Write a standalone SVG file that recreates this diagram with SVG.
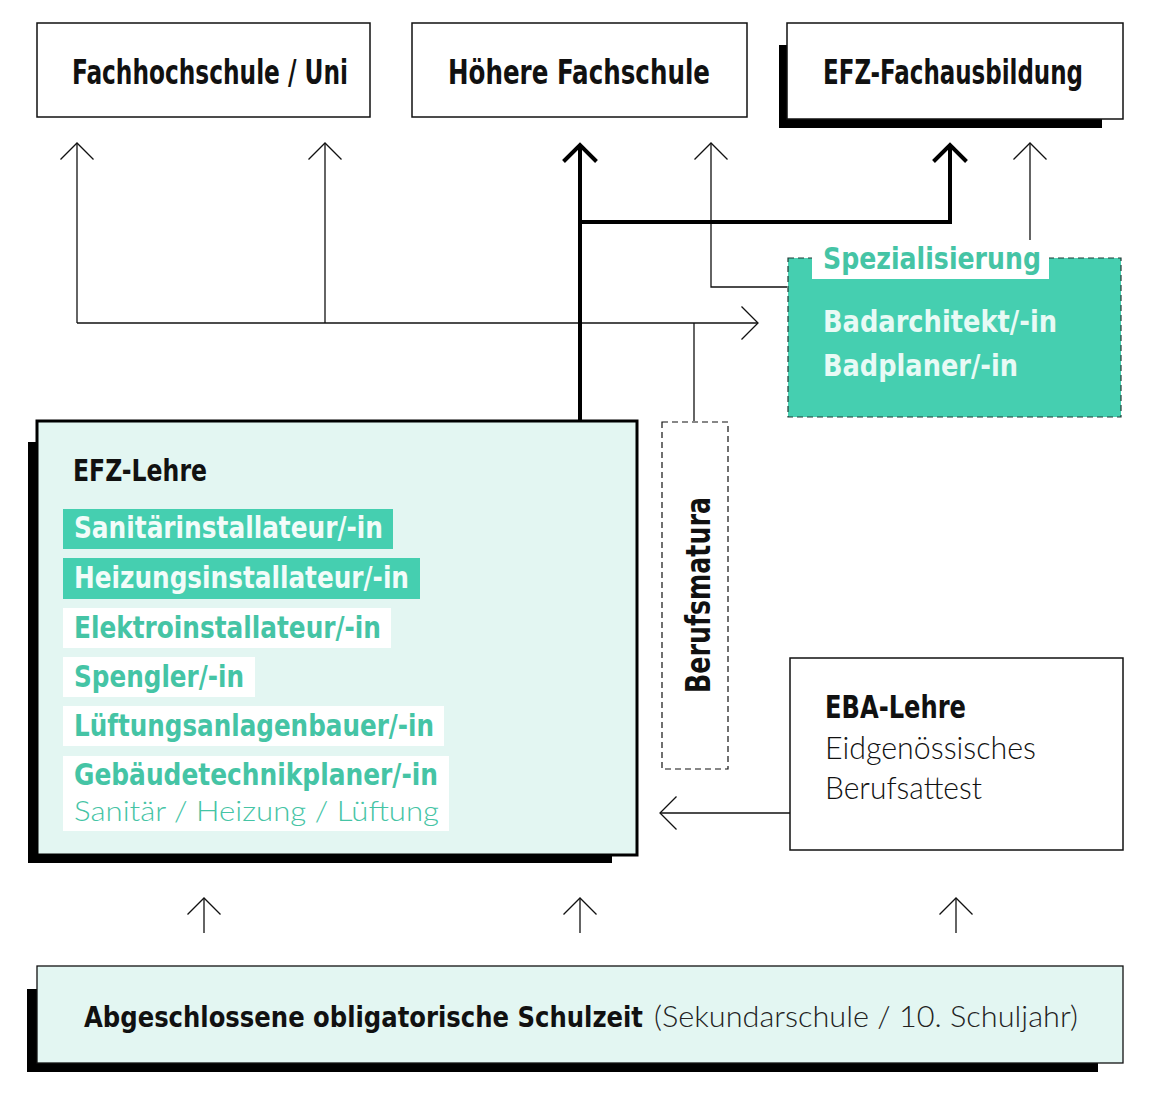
<svg xmlns="http://www.w3.org/2000/svg" width="1161" height="1099" viewBox="0 0 1161 1099">
<style>
text{font-family:"Liberation Sans Narrow","DejaVu Sans Condensed","Liberation Sans",sans-serif;}
.b{font-weight:bold;}
.r{font-family:Lato,"Open Sans","DejaVu Sans Condensed",sans-serif;font-weight:300;}
.box{fill:#fff;stroke:#111;stroke-width:1.5;}
.thin{fill:none;stroke:#111;stroke-width:1.3;}
.thick{fill:none;stroke:#000;stroke-width:4;}
.teal{fill:#45c4a5;}
.shadow{fill:#000;}
</style>
<defs>
<marker id="ah" viewBox="-20 -20 40 40" refX="0" refY="0" markerWidth="40" markerHeight="40" markerUnits="userSpaceOnUse" orient="auto">
<path d="M-16.5,-16.5 L0,0 L-16.5,16.5" fill="none" stroke="#111" stroke-width="1.3"/>
</marker>
<marker id="ahT" viewBox="-20 -20 40 40" refX="0" refY="0" markerWidth="40" markerHeight="40" markerUnits="userSpaceOnUse" orient="auto">
<path d="M-16.5,-16.5 L0,0 L-16.5,16.5" fill="none" stroke="#000" stroke-width="4"/>
</marker>
</defs>
<rect width="1161" height="1099" fill="#fff"/>

<g id="connectors">
<path class="thin" d="M77,323 V143" marker-end="url(#ah)"/>
<path class="thin" d="M325,323 V143" marker-end="url(#ah)"/>
<path class="thin" d="M77,323 H758" marker-end="url(#ah)"/>
<path class="thin" d="M694,421 V323"/>
<path class="thin" d="M787,287 H711 V143" marker-end="url(#ah)"/>
<path class="thin" d="M1030,240 V143" marker-end="url(#ah)"/>
<path class="thick" d="M580,421 V145" marker-end="url(#ahT)"/>
<path class="thick" d="M580,222 H950 V145" marker-end="url(#ahT)"/>
<path class="thin" d="M790,813 H660" marker-end="url(#ah)"/>
<path class="thin" d="M204,933 V898" marker-end="url(#ah)"/>
<path class="thin" d="M580,933 V898" marker-end="url(#ah)"/>
<path class="thin" d="M956,933 V898" marker-end="url(#ah)"/>
</g>

<g id="fachhochschule">
<rect class="box" x="37" y="23" width="333" height="94"/>
<text class="b" x="72" y="84" font-size="33" fill="#111" textLength="276" lengthAdjust="spacingAndGlyphs">Fachhochschule / Uni</text>
</g>

<g id="hoehere-fachschule">
<rect class="box" x="412" y="23" width="335" height="94"/>
<text class="b" x="448" y="84" font-size="33" fill="#111" textLength="262" lengthAdjust="spacingAndGlyphs">Höhere Fachschule</text>
</g>

<g id="efz-fachausbildung">
<rect class="shadow" x="779" y="45" width="323" height="83"/>
<rect class="box" x="787" y="23" width="336" height="96"/>
<text class="b" x="823" y="84" font-size="33" fill="#111" textLength="260" lengthAdjust="spacingAndGlyphs">EFZ-Fachausbildung</text>
</g>

<g id="spezialisierung">
<rect x="788" y="258" width="333" height="159" fill="#45cfb0" stroke="#1e3b34" stroke-width="1.2" stroke-dasharray="6,4"/>
<rect x="812" y="242" width="237" height="37" fill="#fff"/>
<text class="b teal" x="823" y="269" font-size="30" textLength="218" lengthAdjust="spacingAndGlyphs">Spezialisierung</text>
<text class="b" x="823" y="332" font-size="31" fill="#e8faf5" textLength="234" lengthAdjust="spacingAndGlyphs">Badarchitekt/-in</text>
<text class="b" x="823" y="376" font-size="31" fill="#e8faf5" textLength="195" lengthAdjust="spacingAndGlyphs">Badplaner/-in</text>
</g>

<g id="berufsmatura">
<rect x="662" y="422" width="66" height="347" fill="#fff" stroke="#111" stroke-width="1.2" stroke-dasharray="6,4"/>
<text class="b" transform="translate(710,595) rotate(-90)" text-anchor="middle" font-size="33" fill="#111" textLength="196" lengthAdjust="spacingAndGlyphs">Berufsmatura</text>
</g>

<g id="efz-lehre">
<rect class="shadow" x="28" y="442" width="584" height="421"/>
<rect x="37" y="421" width="600" height="434" fill="#e3f6f2" stroke="#000" stroke-width="3"/>
<text class="b" x="73" y="481" font-size="31" fill="#111" textLength="134" lengthAdjust="spacingAndGlyphs">EFZ-Lehre</text>
<rect x="63" y="509" width="330" height="40" fill="#45cfb0"/>
<text class="b" x="74" y="538" font-size="31" fill="#f2fcf9" textLength="309" lengthAdjust="spacingAndGlyphs">Sanitärinstallateur/-in</text>
<rect x="63" y="558" width="357" height="41" fill="#45cfb0"/>
<text class="b" x="74" y="588" font-size="31" fill="#f2fcf9" textLength="335" lengthAdjust="spacingAndGlyphs">Heizungsinstallateur/-in</text>
<rect x="63" y="608" width="328" height="40" fill="#fff"/>
<text class="b teal" x="74" y="638" font-size="31" textLength="307" lengthAdjust="spacingAndGlyphs">Elektroinstallateur/-in</text>
<rect x="63" y="657" width="192" height="40" fill="#fff"/>
<text class="b teal" x="74" y="687" font-size="31" textLength="170" lengthAdjust="spacingAndGlyphs">Spengler/-in</text>
<rect x="63" y="706" width="381" height="40" fill="#fff"/>
<text class="b teal" x="74" y="736" font-size="31" textLength="360" lengthAdjust="spacingAndGlyphs">Lüftungsanlagenbauer/-in</text>
<rect x="63" y="756" width="386" height="75" fill="#fff"/>
<text class="b teal" x="74" y="785" font-size="30" textLength="364" lengthAdjust="spacingAndGlyphs">Gebäudetechnikplaner/-in</text>
<text class="r teal" x="74" y="821" font-size="28" textLength="365" lengthAdjust="spacingAndGlyphs">Sanitär / Heizung / Lüftung</text>
</g>

<g id="eba-lehre">
<rect class="box" x="790" y="658" width="333" height="192"/>
<text class="b" x="825" y="718" font-size="32" fill="#111" textLength="141" lengthAdjust="spacingAndGlyphs">EBA-Lehre</text>
<text class="r" x="825" y="759" font-size="31" fill="#111" textLength="211" lengthAdjust="spacingAndGlyphs">Eidgenössisches</text>
<text class="r" x="825" y="799" font-size="31" fill="#111" textLength="157" lengthAdjust="spacingAndGlyphs">Berufsattest</text>
</g>

<g id="schulzeit">
<rect class="shadow" x="27" y="989" width="1071" height="83"/>
<rect x="37" y="966" width="1086" height="97" fill="#e3f6f2" stroke="#111" stroke-width="1.3"/>
<text y="1027" fill="#111"><tspan class="b" x="84" font-size="28.5" textLength="559" lengthAdjust="spacingAndGlyphs">Abgeschlossene obligatorische Schulzeit</tspan><tspan class="r" x="654" font-size="30" fill="#222" textLength="424" lengthAdjust="spacingAndGlyphs">(Sekundarschule / 10. Schuljahr)</tspan></text>
</g>
</svg>
